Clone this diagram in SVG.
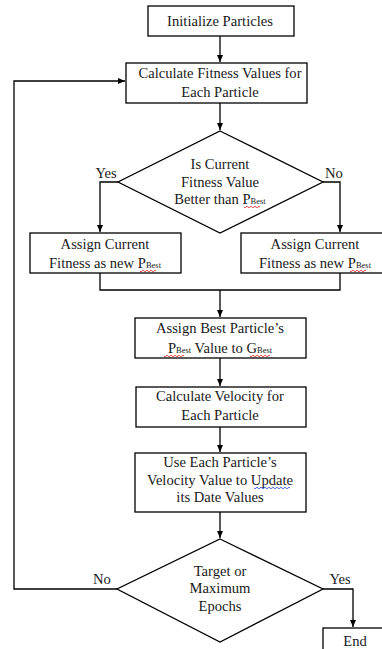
<svg xmlns="http://www.w3.org/2000/svg" width="382" height="649" viewBox="0 0 382 649">
<defs>
<marker id="ah" markerWidth="8" markerHeight="8" refX="7" refY="4" orient="auto" markerUnits="userSpaceOnUse">
<path d="M0,1 L7,4 L0,7 Z" fill="#000"/>
</marker>
<style>
.box{fill:#fff;stroke:#000;stroke-width:1.3}
.ln{fill:none;stroke:#000;stroke-width:1.3}
.t{font-family:"Liberation Serif","Times New Roman",serif;font-size:14.6px;fill:#1a1a1a;text-anchor:middle}
.sub{font-size:8.5px}
.sq{fill:none;stroke:#e02020;stroke-width:0.8}
.sqb{fill:none;stroke:#2040e0;stroke-width:0.8}
</style>
</defs>
<rect width="382" height="649" fill="#fff"/>
<g id="connectors">
<path class="ln" d="M220,36 V62" marker-end="url(#ah)"/>
<path class="ln" d="M220,103 V130" marker-end="url(#ah)"/>
<path class="ln" d="M118,182 H100 V232" marker-end="url(#ah)"/>
<path class="ln" d="M323,182 H340 V232" marker-end="url(#ah)"/>
<path class="ln" d="M100,273 V290 H340 V273"/>
<path class="ln" d="M220,290 V317" marker-end="url(#ah)"/>
<path class="ln" d="M220,358 V386" marker-end="url(#ah)"/>
<path class="ln" d="M220,427 V452" marker-end="url(#ah)"/>
<path class="ln" d="M220,512 V538" marker-end="url(#ah)"/>
<path class="ln" d="M117,589 H14 V81 H125" marker-end="url(#ah)"/>
<path class="ln" d="M323,589 H353 V627" marker-end="url(#ah)"/>
<text class="t" x="106" y="178">Yes</text>
<text class="t" x="334" y="178">No</text>
<text class="t" x="102" y="584">No</text>
<text class="t" x="340" y="584">Yes</text>
</g>
<g id="init">
<rect class="box" x="148" y="6" width="146" height="30"/>
<text class="t" x="220" y="26">Initialize Particles</text>
</g>
<g id="calcFitness">
<rect class="box" x="126" y="63" width="181" height="40"/>
<text class="t" x="220" y="78">Calculate Fitness Values for</text>
<text class="t" x="220" y="97">Each Particle</text>
</g>
<g id="decision1">
<polygon class="box" points="220,131 323,182 220,233 118,182"/>
<text class="t" x="220" y="169">Is Current</text>
<text class="t" x="220" y="187">Fitness Value</text>
<text class="t" x="220" y="204">Better than P<tspan class="sub">Best</tspan></text>
<path class="sq" d="M244,207 q1,1.5 2,0 t2,0 t2,0 t2,0 t2,0 t2,0 t2,0 t2,0"/>
</g>
<g id="assignLeft">
<rect class="box" x="30" y="233" width="151" height="40"/>
<text class="t" x="105" y="249">Assign Current</text>
<text class="t" x="105" y="268">Fitness as new P<tspan class="sub">Best</tspan></text>
<path class="sq" d="M140,271 q1,1.5 2,0 t2,0 t2,0 t2,0 t2,0 t2,0 t2,0 t2,0"/>
</g>
<g id="assignRight">
<rect class="box" x="241" y="233" width="150" height="40"/>
<text class="t" x="315" y="249">Assign Current</text>
<text class="t" x="315" y="268">Fitness as new P<tspan class="sub">Best</tspan></text>
<path class="sq" d="M350,271 q1,1.5 2,0 t2,0 t2,0 t2,0 t2,0 t2,0 t2,0 t2,0"/>
</g>
<g id="assignBest">
<rect class="box" x="135" y="318" width="171" height="40"/>
<text class="t" x="220" y="333">Assign Best Particle’s</text>
<text class="t" x="220" y="353">P<tspan class="sub">Best</tspan> Value to G<tspan class="sub">Best</tspan></text>
<path class="sq" d="M164,356 q1,1.5 2,0 t2,0 t2,0 t2,0 t2,0 t2,0 t2,0 t2,0 t2,0 t2,0"/>
<path class="sq" d="M250,356 q1,1.5 2,0 t2,0 t2,0 t2,0 t2,0 t2,0 t2,0 t2,0 t2,0 t2,0"/>
</g>
<g id="calcVelocity">
<rect class="box" x="136" y="387" width="170" height="40"/>
<text class="t" x="220" y="401">Calculate Velocity for</text>
<text class="t" x="220" y="420">Each Particle</text>
</g>
<g id="update">
<rect class="box" x="135" y="453" width="171" height="59"/>
<text class="t" x="220" y="467">Use Each Particle’s</text>
<text class="t" x="220" y="485">Velocity Value to Update</text>
<text class="t" x="220" y="502">its Date Values</text>
<path class="sqb" d="M254,488 q1,1.5 2,0 t2,0 t2,0 t2,0 t2,0 t2,0 t2,0 t2,0 t2,0 t2,0 t2,0 t2,0 t2,0 t2,0 t2,0 t2,0 t2,0 t2,0"/>
</g>
<g id="decision2">
<polygon class="box" points="220,539 323,589 220,642 117,589"/>
<text class="t" x="220" y="576">Target or</text>
<text class="t" x="220" y="593">Maximum</text>
<text class="t" x="220" y="611">Epochs</text>
</g>
<g id="end">
<rect class="box" x="323" y="628" width="64" height="30"/>
<text class="t" x="355" y="646">End</text>
</g>
</svg>
